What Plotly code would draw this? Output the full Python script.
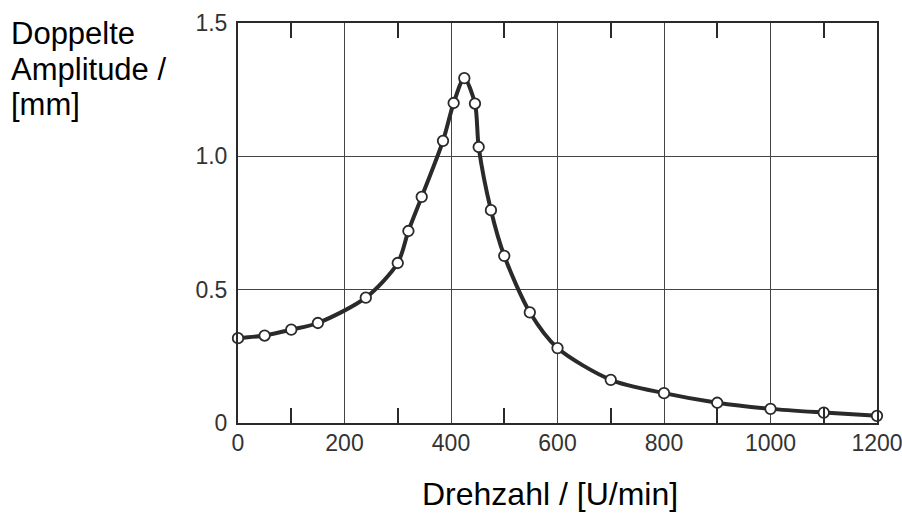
import plotly.graph_objects as go

# Data
drehzahl = [0, 50, 100, 150, 240, 300, 320, 345, 385, 405, 425, 445, 452, 475, 500,
            548, 600, 700, 800, 900, 1000, 1100, 1200]
amplitude = [0.318, 0.328, 0.35, 0.375, 0.47, 0.60, 0.72, 0.848, 1.058, 1.20, 1.293,
             1.198, 1.035, 0.798, 0.627, 0.415, 0.281, 0.162, 0.112, 0.076, 0.053,
             0.039, 0.027]

x_tickvals = [0, 200, 400, 600, 800, 1000, 1200]
x_ticktext = ["0", "200", "400", "600", "800", "1000", "1200"]
x_minor = [100, 300, 500, 700, 900, 1100]
y_tickvals = [0, 0.5, 1.0, 1.5]
y_ticktext = ["0", "0.5", "1.0", "1.5"]
y_title_lines = ["Doppelte", "Amplitude /", "[mm]"]
x_title = "Drehzahl / [U/min]"

ink = "#2a2a2a"
font = "Liberation Sans, Arial, sans-serif"

fig = go.Figure()
fig.add_trace(go.Scatter(
    x=drehzahl, y=amplitude, mode="lines+markers",
    line=dict(color=ink, width=4, shape="spline", smoothing=0.8),
    marker=dict(size=10.5, color="white", line=dict(color=ink, width=1.8)),
    cliponaxis=False, showlegend=False,
))
# helper trace (draws nothing) so that the top axis with inner ticks gets drawn
fig.add_trace(go.Scatter(x=[drehzahl[0]], y=[None], xaxis="x2", yaxis="y",
                         mode="markers", showlegend=False, hoverinfo="skip"))

annotations = []
for line_text, yp in zip(y_title_lines, [0.975, 0.885, 0.795]):
    annotations.append(dict(text=line_text, xref="paper", yref="paper",
                            x=-0.358, y=yp, xanchor="left", yanchor="middle",
                            align="left", showarrow=False,
                            font=dict(size=31, color="black")))
annotations.append(dict(text=x_title, xref="paper", yref="paper",
                        x=(549.5 - 238) / 639, y=-0.1775, xanchor="center",
                        yanchor="middle", showarrow=False,
                        font=dict(size=32, color="black")))

fig.update_layout(
    width=902, height=513, autosize=False,
    margin=dict(l=238, r=25, t=23, b=90, autoexpand=False),
    paper_bgcolor="white", plot_bgcolor="white",
    font=dict(family=font, color="#222"),
    xaxis=dict(
        range=[0, 1200], tickvals=x_tickvals, ticktext=x_ticktext, automargin=False,
        ticks="", ticklen=0, ticklabelstandoff=-2, ticklabeloverflow="allow",
        tickfont=dict(size=23, color="#333"),
        showgrid=True, gridcolor="#444", gridwidth=1.2,
        showline=True, linecolor=ink, linewidth=2, mirror=True, zeroline=False,
        minor=dict(tickvals=x_minor, ticks="inside", ticklen=15, tickcolor=ink,
                   tickwidth=1.5, showgrid=False),
    ),
    xaxis2=dict(
        range=[0, 1200], overlaying="x", side="top", automargin=False,
        tickvals=x_minor, ticks="inside", ticklen=15, tickcolor=ink, tickwidth=1.5,
        showticklabels=False, showgrid=False, zeroline=False, showline=False,
    ),
    yaxis=dict(
        range=[0, 1.5], tickvals=y_tickvals, ticktext=y_ticktext, automargin=False,
        ticks="", ticklen=0, ticklabelstandoff=4, ticklabeloverflow="allow",
        tickfont=dict(size=23, color="#333"),
        showgrid=True, gridcolor="#444", gridwidth=1.2,
        showline=True, linecolor=ink, linewidth=2, mirror=True, zeroline=False,
    ),
    annotations=annotations,
)

post = ("document.body.style.margin='0';document.body.style.overflow='hidden';"
        "Plotly.relayout('{plot_id}', {width: 902, height: 513});")
fig.write_html("out.html", post_script=post, config={"displayModeBar": False})
